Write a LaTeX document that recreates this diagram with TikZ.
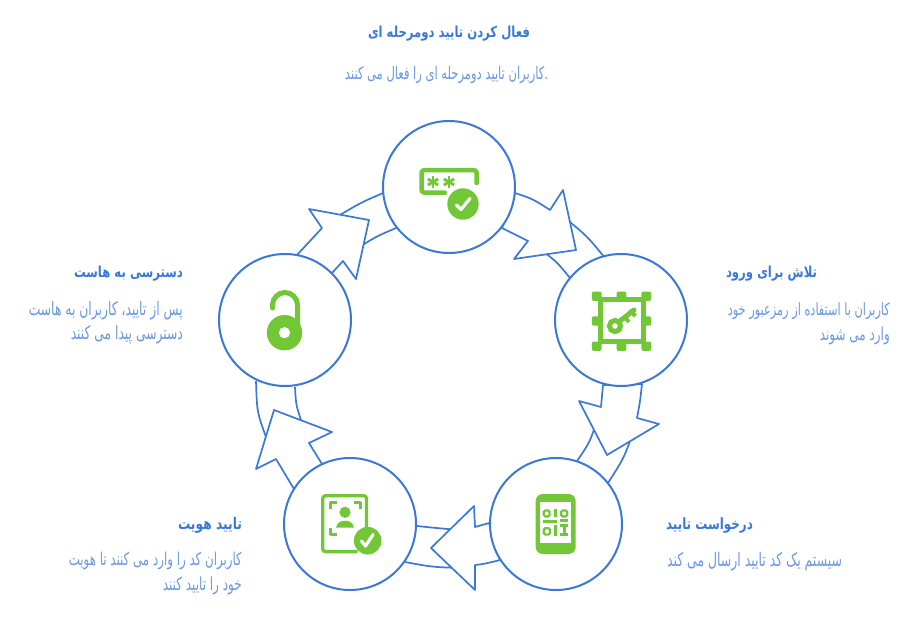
\documentclass[tikz,border=0pt]{standalone}
\usepackage{fontspec}
\newfontfamily\fa[Script=Arabic]{DejaVu Sans}
\TeXXeTstate=1
\definecolor{bl}{HTML}{3B78D8}
\definecolor{gr}{HTML}{72C736}
\definecolor{tx}{HTML}{6A98E2}
\newcommand{\ttl}[2]{\resizebox{#1pt}{!}{\scalebox{1}[1.3]{\fa\bfseries\hbox{#2}}}}
\newcommand{\bdy}[2]{\resizebox{#1pt}{!}{\scalebox{1}[1.5]{\fa\hbox{#2}}}}
\tikzset{
  x=1pt,y=-1pt,
  band/.style={draw=bl,line width=1.7pt,line join=round},
  head/.style={band,fill=white},
  disc/.style={circle,draw=bl,line width=2pt,fill=white,minimum size=132pt,inner sep=0pt},
  label/.style={inner sep=0pt,text=bl},
  desc/.style={inner sep=0pt,text=tx},
  ico/.style={draw=gr,line width=4.5pt,line cap=round,line join=round},
  thin ico/.style={draw=gr,line width=3.3pt,line cap=round,line join=round},
  blob/.style={fill=gr},
  tick/.style={draw=white,line width=3.2pt,line cap=round,line join=round}
}
\begin{document}
\begin{tikzpicture}
\useasboundingbox (0,0) rectangle (910,624);
% band tails passing under the arrow heads
\draw[band] (565,218) .. controls (587,236) .. (605,258);
\draw[band] (540,249) .. controls (557,262) .. (570,278);
\draw[band] (597,420) .. controls (590,442) .. (577,461);
\draw[band] (634,430) .. controls (624,458) .. (608,483);
\draw[band] (460,530) .. controls (436,528) .. (417,526);
\draw[band] (460,568) .. controls (432,567) .. (405,562);
\draw[band] (256,381) .. controls (257,412) .. (266,437);
\draw[band] (295,387) .. controls (296,405) .. (301,420);
\draw[band] (335,218) .. controls (360,203) .. (383,193);
\draw[band] (355,250) .. controls (375,237) .. (396,228);
% arrow heads
\draw[head] (515,193) .. controls (533,199) .. (550,210) -- (563,190) -- (576,250) -- (514,259) -- (528,241) .. controls (515,234) .. (502,228) -- cycle;
\draw[head] (603,385) -- (601,407) -- (579,401) -- (607,455) -- (659,424) -- (637,418) .. controls (640,402) .. (642,384) -- cycle;
\draw[head] (489,523) -- (475,527) -- (474,506) -- (431,548) -- (475,590) -- (475,565) .. controls (484,564) .. (500,560) -- cycle;
\draw[head] (294,489) -- (276,459) -- (256,469) -- (274,410) -- (332,432) -- (309,443) -- (322,464) -- cycle;
\draw[head] (297,255) -- (322,228) -- (309,209) -- (369,220) -- (356,279) -- (343,261) -- (332,273) -- cycle;
% circles
\node[disc] (c1) at (449,187) {};
\node[disc] (c2) at (621,320) {};
\node[disc] (c3) at (556,524) {};
\node[disc] (c4) at (350,524) {};
\node[disc] (c5) at (285,320) {};
% icon 1: password
\draw[ico,rounded corners=3pt] (476.7,183) -- (476.7,170) -- (421.5,170) -- (421.5,192.7) -- (445,192.7);
\foreach \cx in {433,449}{\foreach \a in {30,90,150}{\draw[draw=gr,line width=2.8pt] ([shift={(\a:6)}]\cx,182) -- ([shift={(\a+180:6)}]\cx,182);}}
\fill[blob] (463,204) circle (15.7);
\draw[tick] (456.5,205) -- (461,209.5) -- (470,198.5);
% icon 2: key in frame
\draw[draw=gr,line width=5pt] (600.7,299.5) rectangle (643.3,341.7);
\foreach \px/\py in {596.7/296.2,621.5/296.2,646.3/296.2,596.7/321,646.3/321,596.7/346.2,621.5/346.2,646.3/346.2}{\fill[blob,rounded corners=2pt] (\px-4.9,\py-4.7) rectangle (\px+4.9,\py+4.7);}
\draw[draw=gr,line width=5pt] (615,326) circle (5.6);
\draw[draw=gr,line width=5pt,line cap=round] (620,321) -- (634,310);
\draw[draw=gr,line width=4pt] (623.5,316) -- (629,322);
\draw[draw=gr,line width=4pt] (629,310.5) -- (635.5,316);
% icon 3: phone with QR code
\fill[blob,rounded corners=7pt] (535.7,494) rectangle (575.7,554);
\fill[white] (540.3,501.7) rectangle (571,543.3);
\draw[draw=gr,line width=2.2pt,rounded corners=1.5pt] (543.8,510.4) rectangle (549.6,516.4);
\draw[draw=gr,line width=2.2pt,rounded corners=1.5pt] (561.2,510.4) rectangle (567.2,516.4);
\draw[draw=gr,line width=2.2pt,rounded corners=1.5pt] (543.8,528.2) rectangle (550,534.6);
\fill[blob] (554,509) rectangle (557.3,517);
\fill[blob] (543,519.8) rectangle (557.3,522.7);
\fill[blob] (560,519.3) rectangle (568.3,522);
\fill[blob] (554,525) rectangle (557.3,535.7);
\fill[blob] (560,524) rectangle (568.3,526.8);
\fill[blob] (563,524) rectangle (565.8,535.7);
\fill[blob] (560,533) rectangle (568.3,535.7);
% icon 4: identity
\draw[thin ico,rounded corners=2.5pt] (356.5,551.6) -- (322.8,551.6) -- (322.8,495.8) -- (366.5,495.8) -- (366.5,529);
\draw[draw=gr,line width=3pt,line join=round] (330,509) -- (330,502) -- (336.5,502);
\draw[draw=gr,line width=3pt,line join=round] (353.5,502) -- (360,502) -- (360,509);
\draw[draw=gr,line width=3pt,line join=round] (330,527.5) -- (330,534) -- (336.5,534);
\fill[blob] (345,512.3) circle (5.6);
\fill[blob] (336,527.7) .. controls (337,523) and (340,520.7) .. (345,520.7) .. controls (350,520.7) and (353,523) .. (354,527.7) -- cycle;
\fill[blob] (367.7,540.7) circle (13.8);
\draw[tick] (361.5,541) -- (365.5,546) -- (373,534.5);
% icon 5: open lock
\draw[draw=gr,line width=5pt,line cap=round] (272.5,308) -- (272.5,305) arc[start angle=180,end angle=0,x radius=12.5,y radius=-12.5] -- (297.5,325);
\fill[blob] (284.5,332.7) circle (17.7);
\fill[white] (284.5,332.7) circle (5.6);
% texts
\node[label] (t1) at (449,33.5) {\ttl{162}{\beginR فعال کردن تایید دومرحله ای\endR}};
\node[desc] (b1) at (446.5,75) {\bdy{203}{\beginR .کاربران تایید دومرحله ای را فعال می کنند\endR}};
\node[label] (t2) at (771.5,273.5) {\ttl{91}{\beginR تلاش برای ورود\endR}};
\node[desc,anchor=east] (b2a) at (890,311) {\bdy{162}{\beginR کاربران با استفاده از رمزعبور خود\endR}};
\node[desc,anchor=east] (b2b) at (890,336) {\bdy{70}{\beginR وارد می شوند\endR}};
\node[label] (t3) at (709.5,525.5) {\ttl{87}{\beginR درخواست تایید\endR}};
\node[desc] (b3) at (754.5,562) {\bdy{175}{\beginR سیستم یک کد تایید ارسال می کند\endR}};
\node[label] (t4) at (210,525.5) {\ttl{64}{\beginR تایید هویت\endR}};
\node[desc,anchor=east] (b4a) at (242,561) {\bdy{173}{\beginR کاربران کد را وارد می کنند تا هویت\endR}};
\node[desc,anchor=east] (b4b) at (242,586) {\bdy{79}{\beginR خود را تایید کنند\endR}};
\node[label] (t5) at (128.5,273.5) {\ttl{109}{\beginR دسترسی به هاست\endR}};
\node[desc,anchor=east] (b5a) at (183,311) {\bdy{154}{\beginR پس از تایید، کاربران به هاست\endR}};
\node[desc,anchor=east] (b5b) at (183,335) {\bdy{112}{\beginR دسترسی پیدا می کنند\endR}};
\end{tikzpicture}
\end{document}
